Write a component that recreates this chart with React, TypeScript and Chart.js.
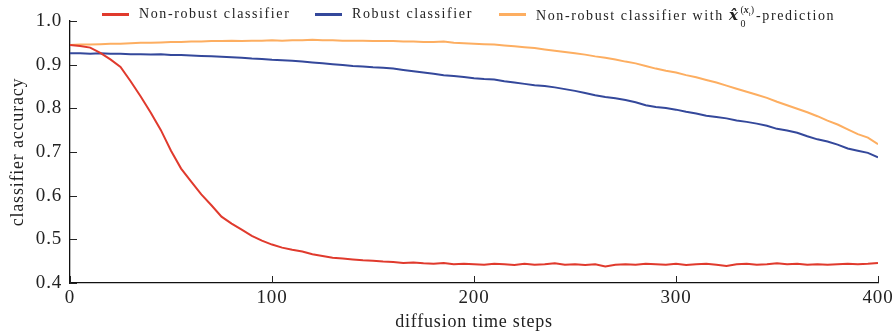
import React, { useEffect, useRef } from "react";
import { Chart, registerables } from "chart.js";

Chart.register(...registerables);

const STEPS = [
  0, 5, 10, 15, 20, 25, 30, 35, 40, 45, 50, 55, 60, 65, 70, 75, 80, 85, 90, 95,
  100, 105, 110, 115, 120, 125, 130, 135, 140, 145, 150, 155, 160, 165, 170, 175, 180, 185, 190, 195,
  200, 205, 210, 215, 220, 225, 230, 235, 240, 245, 250, 255, 260, 265, 270, 275, 280, 285, 290, 295,
  300, 305, 310, 315, 320, 325, 330, 335, 340, 345, 350, 355, 360, 365, 370, 375, 380, 385, 390, 395, 400,
];

const NON_ROBUST = [
  0.945, 0.943, 0.939, 0.927, 0.912, 0.895, 0.862, 0.827, 0.79, 0.75, 0.703, 0.662, 0.632, 0.603, 0.578, 0.552, 0.536, 0.522, 0.508, 0.497,
  0.488, 0.481, 0.476, 0.472, 0.466, 0.462, 0.458, 0.456, 0.454, 0.452, 0.451, 0.449, 0.448, 0.446, 0.447, 0.445, 0.444, 0.446, 0.443, 0.444,
  0.443, 0.442, 0.444, 0.443, 0.441, 0.444, 0.442, 0.443, 0.445, 0.442, 0.443, 0.441, 0.443, 0.438, 0.442, 0.443, 0.442, 0.444, 0.443, 0.442,
  0.444, 0.441, 0.443, 0.444, 0.442, 0.439, 0.443, 0.444, 0.442, 0.443, 0.445, 0.443, 0.444, 0.442, 0.443, 0.442, 0.443, 0.444, 0.443, 0.444, 0.446,
];

const ROBUST = [
  0.926, 0.926, 0.925, 0.926, 0.925, 0.925, 0.924, 0.924, 0.923, 0.924, 0.922, 0.922, 0.921, 0.92, 0.919, 0.918, 0.917, 0.916, 0.914, 0.913,
  0.911, 0.91, 0.909, 0.907, 0.905, 0.903, 0.901, 0.899, 0.897, 0.896, 0.894, 0.893, 0.891, 0.888, 0.885, 0.882, 0.879, 0.876, 0.874, 0.872,
  0.869, 0.867, 0.866, 0.862, 0.859, 0.856, 0.853, 0.851, 0.848, 0.844, 0.84, 0.835, 0.83, 0.826, 0.823, 0.819, 0.814, 0.807, 0.803, 0.801,
  0.797, 0.792, 0.788, 0.783, 0.78, 0.777, 0.772, 0.769, 0.765, 0.76, 0.753, 0.749, 0.744, 0.736, 0.729, 0.724, 0.717, 0.708, 0.703, 0.698, 0.688,
];

const NON_ROBUST_X0 = [
  0.945, 0.946, 0.946, 0.947, 0.948, 0.948, 0.949, 0.95, 0.95, 0.951, 0.952, 0.952, 0.953, 0.953, 0.954, 0.954, 0.955, 0.954, 0.955, 0.955,
  0.956, 0.955, 0.956, 0.956, 0.957, 0.956, 0.956, 0.955, 0.955, 0.955, 0.954, 0.954, 0.954, 0.953, 0.953, 0.952, 0.952, 0.953, 0.95, 0.949,
  0.948, 0.947, 0.946, 0.944, 0.942, 0.94, 0.938, 0.935, 0.932, 0.929, 0.926, 0.923, 0.919, 0.916, 0.912, 0.907, 0.903, 0.897, 0.891, 0.886,
  0.882, 0.876, 0.871, 0.865, 0.859, 0.852, 0.845, 0.838, 0.831, 0.824, 0.815, 0.807, 0.799, 0.791, 0.782, 0.772, 0.763, 0.752, 0.741, 0.733, 0.718,
];

const X_TICKS = [0, 100, 200, 300, 400];
const Y_TICKS = [0.4, 0.5, 0.6, 0.7, 0.8, 0.9, 1.0];

const RED = "#e03a2d";
const BLUE = "#34489b";
const ORANGE = "#fdae61";
const FONT = "'Liberation Serif', 'DejaVu Serif', serif";

const spacing = {
  id: "spacing",
  beforeDraw(chart: any) {
    (chart.ctx as any).letterSpacing = "0.8px";
  },
};

const innerTicks = {
  id: "innerTicks",
  afterDraw(chart: any) {
    const { ctx, chartArea, scales } = chart;
    ctx.save();
    ctx.strokeStyle = "#222";
    ctx.lineWidth = 1;
    ctx.beginPath();
    for (const v of Y_TICKS) {
      const y = Math.round(scales.y.getPixelForValue(v)) + 0.5;
      ctx.moveTo(chartArea.left, y);
      ctx.lineTo(chartArea.left + 7, y);
    }
    for (const v of X_TICKS) {
      const x = Math.round(scales.x.getPixelForValue(v)) + 0.5;
      ctx.moveTo(x, chartArea.bottom);
      ctx.lineTo(x, chartArea.bottom - 7);
    }
    ctx.stroke();
    ctx.restore();
  },
};

export default function App() {
  const ref = useRef<HTMLCanvasElement | null>(null);

  useEffect(() => {
    if (!ref.current) return;
    const mk = (vals: number[]) => STEPS.map((s, i) => ({ x: s, y: vals[i] }));
    const chart = new Chart(ref.current, {
      type: "line",
      data: {
        datasets: [
          { label: "Non-robust classifier", data: mk(NON_ROBUST), borderColor: RED, backgroundColor: RED, borderWidth: 2, pointRadius: 0, tension: 0 },
          { label: "Robust classifier", data: mk(ROBUST), borderColor: BLUE, backgroundColor: BLUE, borderWidth: 2, pointRadius: 0, tension: 0 },
          { label: "Non-robust classifier with x̂0-prediction", data: mk(NON_ROBUST_X0), borderColor: ORANGE, backgroundColor: ORANGE, borderWidth: 2, pointRadius: 0, tension: 0 },
        ],
      },
      options: {
        animation: false,
        responsive: false,
        layout: { padding: { top: 21, right: 16, left: 0, bottom: 0 } },
        plugins: { legend: { display: false }, tooltip: { enabled: false } },
        scales: {
          x: {
            type: "linear",
            min: 0,
            max: 400,
            afterFit: (s: any) => { s.height = 50; s.paddingRight = 0; },
            afterBuildTicks: (s: any) => { s.ticks = X_TICKS.map((v) => ({ value: v })); },
            grid: { display: false, drawTicks: false },
            border: { display: true, color: "#111", width: 1.3 },
            ticks: { color: "#222", font: { family: FONT, size: 19 }, padding: 4, maxRotation: 0 },
            title: { display: true, text: "diffusion time steps", color: "#222", font: { family: FONT, size: 18 }, padding: { top: 0, bottom: 0 } },
          },
          y: {
            type: "linear",
            min: 0.4,
            max: 1.0,
            afterFit: (s: any) => { s.width = 70; },
            afterBuildTicks: (s: any) => { s.ticks = Y_TICKS.map((v) => ({ value: v })); },
            grid: { display: false, drawTicks: false },
            border: { display: true, color: "#111", width: 1.3 },
            ticks: { color: "#222", font: { family: FONT, size: 19 }, padding: 8, callback: (v: any) => Number(v).toFixed(1) },
            title: { display: true, text: "classifier accuracy", color: "#222", font: { family: FONT, size: 18 }, padding: { top: 7, bottom: 0 } },
          },
        },
      },
      plugins: [spacing, innerTicks],
    });
    return () => chart.destroy();
  }, []);

  const legendText: React.CSSProperties = {
    position: "absolute",
    top: 5,
    fontFamily: FONT,
    fontSize: 14,
    letterSpacing: "1.6px",
    color: "#222",
    whiteSpace: "nowrap",
    lineHeight: "18px",
  };
  const line = (left: number, color: string): React.CSSProperties => ({
    position: "absolute",
    left,
    top: 13,
    width: 27,
    height: 3,
    background: color,
  });

  return (
    <div style={{ position: "fixed", left: 0, top: 0, width: 894, height: 333, background: "#fff" }}>
      <canvas ref={ref} width={894} height={333} style={{ position: "absolute", left: 0, top: 0, width: 894, height: 333 }} />
      <div style={line(102, RED)} />
      <div style={{ ...legendText, left: 139 }}>Non-robust classifier</div>
      <div style={line(315, BLUE)} />
      <div style={{ ...legendText, left: 352 }}>Robust classifier</div>
      <div style={line(499, ORANGE)} />
      <div style={{ ...legendText, left: 536 }}>
        Non-robust classifier with{" "}
        <b><i style={{ fontFamily: "'DejaVu Serif', serif", fontSize: 15 }}>x̂</i></b>
        <span style={{ display: "inline-flex", flexDirection: "column", verticalAlign: "middle", fontSize: 10, lineHeight: "9px", letterSpacing: 0, margin: "0 2px 0 1px" }}>
          <span>(<b><i>x</i></b><sub style={{ fontSize: 7 }}>t</sub>)</span>
          <span>0</span>
        </span>
        -prediction
      </div>
    </div>
  );
}
